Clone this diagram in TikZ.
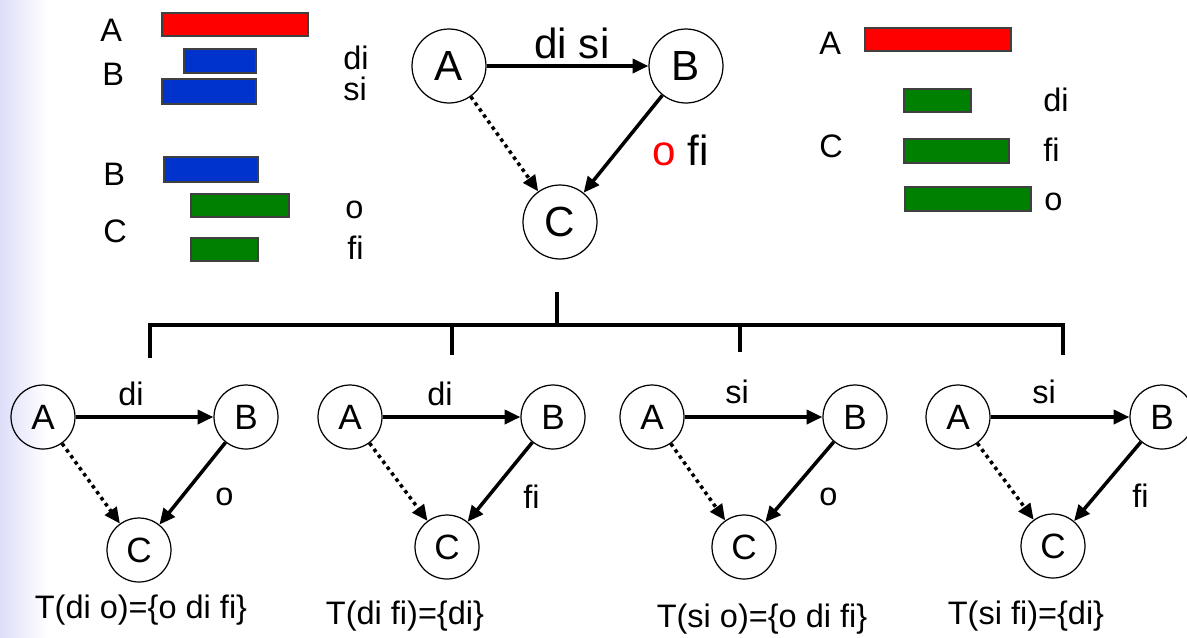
\documentclass[tikz,border=0pt]{standalone}
\usepackage{fontspec}
\setmainfont{Liberation Sans}
\usetikzlibrary{arrows.meta}

\definecolor{barred}{RGB}{255,0,0}
\definecolor{barblue}{RGB}{0,51,204}
\definecolor{bargreen}{RGB}{0,128,0}
\definecolor{lavender}{RGB}{222,222,250}

\begin{document}
\begin{tikzpicture}[
  x=0.02cm, y=-0.02cm,
  bignode/.style={circle, draw, line width=0.7pt, minimum size=1.48cm, inner sep=0pt, font=\fontsize{24}{28}\selectfont},
  smallnode/.style={circle, draw, line width=0.7pt, minimum size=1.28cm, inner sep=0pt, font=\fontsize{20}{24}\selectfont},
  biglbl/.style={inner sep=0pt, font=\fontsize{24}{28}\selectfont},
  lbl/.style={inner sep=0pt, font=\fontsize{18.5}{22}\selectfont},
  arr/.style={draw, -{Triangle[length=9pt, width=8pt]}, line width=2pt},
  dotarr/.style={arr, dash pattern=on 2pt off 2.2pt},
  barbox/.style={draw=black!75, line width=0.6pt},
  bracket/.style={draw, line width=2.2pt}
]
\useasboundingbox (0,0) rectangle (1187,637);
\shade[left color=lavender, right color=white] (0,0) rectangle (48,637);

% top left intervals
\draw[barbox, fill=barred] (162,13) rectangle (308,36);
\draw[barbox, fill=barblue] (184,49) rectangle (256,73);
\draw[barbox, fill=barblue] (162,79) rectangle (256,104);
\draw[barbox, fill=barblue] (164,157) rectangle (258,182);
\draw[barbox, fill=bargreen] (191,194) rectangle (289,217);
\draw[barbox, fill=bargreen] (191,238) rectangle (258,261);
\node[lbl, anchor=base west] (lA) at (100,41) {A};
\node[lbl, anchor=base west] (lB) at (102,85) {B};
\node[lbl, anchor=base west] (lB2) at (103,185) {B};
\node[lbl, anchor=base west] (lC) at (103,242) {C};
\node[lbl, anchor=base west] (ldi) at (343,69) {di};
\node[lbl, anchor=base west] (lsi) at (343,100) {si};
\node[lbl, anchor=base west] (lo) at (345,218) {o};
\node[lbl, anchor=base west] (lfi) at (347,259) {fi};

% top right intervals
\draw[barbox, fill=barred] (865,28) rectangle (1011,51);
\draw[barbox, fill=bargreen] (904,89) rectangle (971,112);
\draw[barbox, fill=bargreen] (904,139) rectangle (1009,163);
\draw[barbox, fill=bargreen] (905,187) rectangle (1031,211);
\node[lbl, anchor=base west] (rA) at (819,54) {A};
\node[lbl, anchor=base west] (rC) at (819,157) {C};
\node[lbl, anchor=base west] (rdi) at (1043,111) {di};
\node[lbl, anchor=base west] (rfi) at (1043,161) {fi};
\node[lbl, anchor=base west] (ro) at (1044,210) {o};

% main network
\node[bignode] (A) at (449,66) {A};
\node[bignode] (B) at (686,66) {B};
\node[bignode] (C) at (560,222) {C};
\draw[arr] (A) -- (B);
\draw[arr] (B) -- (C);
\draw[dotarr] (A) -- (C);
\node[biglbl, anchor=base] (AB) at (572,58) {di si};
\node[biglbl, anchor=base west] (BC) at (652,165) {\textcolor{barred}{o} fi};

% split into four cases
\coordinate (stem) at (557,292);
\coordinate (split) at (557,325);
\coordinate (d1) at (150,358);
\coordinate (d2) at (452,355);
\coordinate (d3) at (740,352);
\coordinate (d4) at (1063,355);
\draw[bracket] (stem) -- (split);
\draw[bracket] (d1) |- (split) -| (d4);
\draw[bracket] (d2) -- (d2 |- split);
\draw[bracket] (d3) -- (d3 |- split);

% case 1
\node[smallnode] (A1) at (43,417) {A};
\node[smallnode] (B1) at (246,417) {B};
\node[smallnode] (C1) at (139,550) {C};
\draw[arr] (A1) -- (B1);
\draw[arr] (B1) -- (C1);
\draw[dotarr] (A1) -- (C1);
\node[lbl, anchor=base] (t1) at (131,405) {di};
\node[lbl, anchor=base west] (s1) at (215,505) {o};
\node[lbl, anchor=base] (T1) at (141,618) {T(di o)=\{o di fi\}};

% case 2
\node[smallnode] (A2) at (350,417) {A};
\node[smallnode] (B2) at (553,417) {B};
\node[smallnode] (C2) at (447,547) {C};
\draw[arr] (A2) -- (B2);
\draw[arr] (B2) -- (C2);
\draw[dotarr] (A2) -- (C2);
\node[lbl, anchor=base] (t2) at (440,405) {di};
\node[lbl, anchor=base west] (s2) at (523,508) {fi};
\node[lbl, anchor=base] (T2) at (405,624) {T(di fi)=\{di\}};

% case 3
\node[smallnode] (A3) at (652,417) {A};
\node[smallnode] (B3) at (855,417) {B};
\node[smallnode] (C3) at (744,547) {C};
\draw[arr] (A3) -- (B3);
\draw[arr] (B3) -- (C3);
\draw[dotarr] (A3) -- (C3);
\node[lbl, anchor=base] (t3) at (737,403) {si};
\node[lbl, anchor=base west] (s3) at (819,505) {o};
\node[lbl, anchor=base] (T3) at (762,627) {T(si o)=\{o di fi\}};

% case 4
\node[smallnode] (A4) at (958,417) {A};
\node[smallnode] (B4) at (1162,417) {B};
\node[smallnode] (C4) at (1053,546) {C};
\draw[arr] (A4) -- (B4);
\draw[arr] (B4) -- (C4);
\draw[dotarr] (A4) -- (C4);
\node[lbl, anchor=base] (t4) at (1044,403) {si};
\node[lbl, anchor=base west] (s4) at (1132,507) {fi};
\node[lbl, anchor=base] (T4) at (1026,624) {T(si fi)=\{di\}};
\end{tikzpicture}
\end{document}
